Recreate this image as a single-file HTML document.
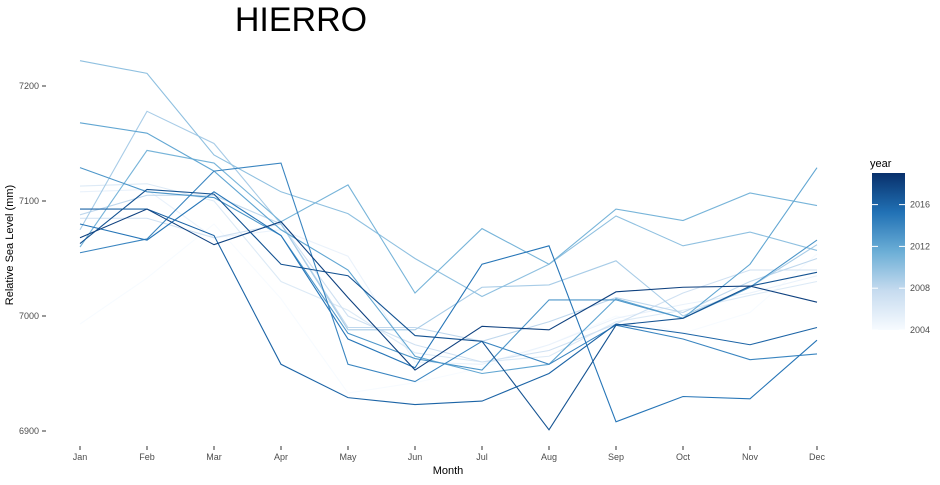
<!DOCTYPE html>
<html><head><meta charset="utf-8"><style>
body{margin:0;background:#fff;font-family:"Liberation Sans",sans-serif}
</style></head><body>
<svg id="c" width="940" height="480" xmlns="http://www.w3.org/2000/svg">
<defs><linearGradient id="g" x1="0" y1="1" x2="0" y2="0">
<stop offset="0" stop-color="#f7fbff"/><stop offset="0.25" stop-color="#c6dbef"/><stop offset="0.5" stop-color="#6baed6"/><stop offset="0.75" stop-color="#2171b5"/><stop offset="1" stop-color="#08306b"/></linearGradient></defs>
<text x="301" y="31" font-size="34" text-anchor="middle" fill="#000">HIERRO</text>
<text transform="translate(13,245) rotate(-90)" font-size="11" text-anchor="middle">Relative Sea Level (mm)</text>
<text x="448" y="474" font-size="11" text-anchor="middle">Month</text>
<g id="ax"></g><g id="lines"></g>
<text x="870" y="167" font-size="11">year</text>
<rect x="872" y="173" width="33" height="157" fill="url(#g)"/>
<g id="leg"></g>
</svg>
<script>
const months=["Jan","Feb","Mar","Apr","May","Jun","Jul","Aug","Sep","Oct","Nov","Dec"];
const yTicks=[6900,7000,7100,7200];
const years=[2004,2005,2006,2007,2008,2009,2010,2011,2012,2013,2014,2015,2016,2017,2018];
const legendTicks=[2004,2008,2012,2016];
const s2004=[6993,7033,7080,7015,6933,6942,6955,6975,7000,6985,7003,7054];
const s2005=[7108,7110,7068,7075,7052,6960,6958,6975,6998,7010,7020,7035];
const s2006=[7113,7115,7100,7030,7005,6968,6960,6965,6995,7005,7018,7030];
const s2007=[7085,7085,7068,7080,7000,6975,6960,6970,6993,7020,7040,7040];
const s2008=[7088,7105,7105,7080,6990,6990,6978,6995,7016,7003,7030,7050];
const s2009=[7075,7178,7150,7080,6988,6988,7025,7027,7048,7000,7025,7062];
const s2010=[7222,7211,7140,7108,7089,7050,7017,7045,7087,7061,7073,7057];
const s2011=[7060,7144,7133,7082,7114,7020,7076,7045,7093,7083,7107,7096];
const s2012=[7168,7159,7126,7075,7040,6965,6950,6958,7015,6998,7045,7129];
const s2013=[7129,7108,7103,7070,6985,6963,6953,7014,7014,6998,7025,7066];
const s2014=[7055,7067,7126,7133,6958,6943,6978,6958,6992,6980,6962,6967];
const s2015=[7080,7066,7108,7070,6980,6955,7045,7061,6908,6930,6928,6979];
const s2016=[7093,7093,7070,6958,6929,6923,6926,6950,6993,6985,6975,6990];
const s2017=[7063,7110,7106,7045,7035,6983,6978,6901,6992,6998,7026,7038];
const s2018=[7068,7093,7062,7082,7016,6953,6991,6988,7021,7025,7026,7012];
const series=[s2004,s2005,s2006,s2007,s2008,s2009,s2010,s2011,s2012,s2013,s2014,s2015,s2016,s2017,s2018];
const NS="http://www.w3.org/2000/svg";
const X=i=>80+i*67.0;
const Y=v=>316-(v-7000)*1.15;
const LY=yr=>330-(yr-2004)*10.45;
const stops=[[247,251,255],[198,219,239],[107,174,214],[33,113,181],[8,48,107]];
function col(yr){let t=(yr-2004)/15;t=Math.max(0,Math.min(1,t))*4;let i=Math.min(3,Math.floor(t)),f=t-i;
 const c=stops[i].map((a,k)=>Math.round(a+(stops[i+1][k]-a)*f));return `rgb(${c})`;}
function mk(tag,at,p){const e=document.createElementNS(NS,tag);for(const k in at)e.setAttribute(k,at[k]);p.appendChild(e);return e;}
const ax=document.getElementById('ax');
yTicks.forEach(v=>{
 const t=mk('line',{x1:42,x2:46,y1:Y(v),y2:Y(v),stroke:'#333'},ax);
 
 
 const l=mk('text',{x:39,y:Y(v)+3,'font-size':9,'text-anchor':'end',fill:'#4d4d4d'},ax);l.textContent=v;
 
 
});
months.forEach((m,i)=>{
 const t=mk('line',{x1:X(i),x2:X(i),y1:446,y2:450,stroke:'#333'},ax);
 
 
 const l=mk('text',{x:X(i),y:460,'font-size':9,'text-anchor':'middle',fill:'#4d4d4d'},ax);l.textContent=m;
 
 
});
const lg=document.getElementById('lines');
series.forEach((s,k)=>{
 const p=mk('polyline',{points:s.map((v,i)=>X(i)+','+Y(v)).join(' '),fill:'none',stroke:col(years[k]),'stroke-width':1.1},lg);
 
 
});
const leg=document.getElementById('leg');
legendTicks.forEach(yr=>{
 mk('line',{x1:872,x2:878,y1:LY(yr),y2:LY(yr),stroke:'#fff'},leg);
 mk('line',{x1:899,x2:905,y1:LY(yr),y2:LY(yr),stroke:'#fff'},leg);
 const l=mk('text',{x:910,y:LY(yr)+3,'font-size':9,fill:'#4d4d4d'},leg);l.textContent=yr;
 
 
});
</script>
</body></html>
